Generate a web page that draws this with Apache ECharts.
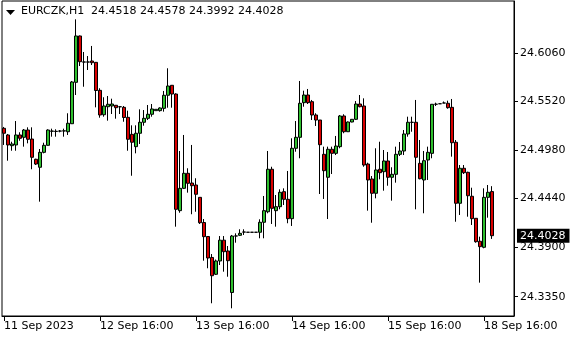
<!DOCTYPE html>
<html>
<head>
<meta charset="utf-8">
<script src="https://cdn.jsdelivr.net/npm/echarts@6/dist/echarts.min.js"></script>
<style>html,body{margin:0;padding:0;background:#fff}#c{width:580px;height:340px}</style>
</head>
<body>
<div id="c"></div>
<script>
const symbolName = 'EURCZK,H1';
const tickLabels = ['11 Sep 2023','12 Sep 16:00','13 Sep 16:00','14 Sep 16:00','15 Sep 16:00','18 Sep 16:00'];
const barsPerTick = 24;
const totalSlots = 128;
const priceTicks = [24.3350, 24.3900, 24.4440, 24.4980, 24.5520, 24.6060];

const open = [
24.5221,24.5147,24.5028,24.5036,24.5147,24.5121,24.5202,24.5102,24.4877,24.4788,
24.4954,24.5032,24.5188,24.5186,24.5190,24.5191,24.5183,24.5272,24.5732,24.6247,
24.5957,24.5958,24.5969,24.5954,24.5643,24.5372,24.5461,24.5469,24.5477,24.5460,
24.5454,24.5343,24.5154,24.5017,24.5166,24.5288,24.5332,24.5377,24.5417,24.5417,
24.5443,24.5588,24.5699,24.5602,24.4306,24.4554,24.4721,24.4613,24.4591,24.4454,
24.4174,24.4019,24.3786,24.3599,24.3747,24.3978,24.3858,24.3397,24.4024,24.4032,
24.4068,24.4066,24.4066,24.4066,24.4066,24.4177,24.4294,24.4766,24.4306,24.4350,
24.4517,24.4432,24.4217,24.4999,24.5121,24.5506,24.5591,24.5517,24.5369,24.5313,
24.4932,24.4677,24.4988,24.4943,24.5017,24.5358,24.5183,24.5291,24.5321,24.5491,
24.5469,24.4824,24.4658,24.4499,24.4766,24.4739,24.4858,24.4677,24.4710,24.4932,
24.4969,24.5158,24.5287,24.5288,24.4832,24.4647,24.4869,24.4943,24.5488,24.5494,
24.5502,24.5499,24.5454,24.5066,24.4388,24.4777,24.4732,24.4466,24.4221,24.3966,
24.3899,24.4454,24.4518];
const close = [
24.5166,24.5036,24.5047,24.5147,24.5110,24.5202,24.5099,24.4899,24.4824,24.4954,
24.5032,24.5202,24.5191,24.5188,24.5191,24.5193,24.5277,24.5736,24.6247,24.5961,
24.5958,24.5957,24.5950,24.5641,24.5369,24.5469,24.5488,24.5491,24.5450,24.5461,
24.5341,24.5099,24.5066,24.5166,24.5288,24.5332,24.5377,24.5436,24.5432,24.5447,
24.5588,24.5691,24.5602,24.4321,24.4554,24.4721,24.4610,24.4583,24.4488,24.4172,
24.4017,24.3780,24.3583,24.3747,24.3978,24.3850,24.3750,24.4024,24.4025,24.4054,
24.4069,24.4066,24.4066,24.4066,24.4177,24.4306,24.4766,24.4332,24.4350,24.4510,
24.4432,24.4217,24.4999,24.5121,24.5499,24.5591,24.5506,24.5369,24.5313,24.5039,
24.4750,24.4988,24.4943,24.5024,24.5358,24.5183,24.5291,24.5321,24.5491,24.5461,
24.4813,24.4647,24.4499,24.4758,24.4728,24.4858,24.4677,24.4710,24.4932,24.4969,
24.5158,24.5288,24.5288,24.4899,24.4661,24.4861,24.4954,24.5488,24.5489,24.5494,
24.5502,24.5450,24.5061,24.4388,24.4777,24.4728,24.4472,24.4217,24.3961,24.3906,
24.4454,24.4510,24.4028];
const high = [
24.5236,24.5158,24.5072,24.5302,24.5177,24.5213,24.5232,24.5232,24.4883,24.4991,
24.5061,24.5210,24.5217,24.5210,24.5202,24.5217,24.5388,24.5747,24.6432,24.6252,
24.6069,24.6024,24.6136,24.5958,24.5666,24.5566,24.5580,24.5550,24.5480,24.5469,
24.5469,24.5417,24.5254,24.5254,24.5432,24.5424,24.5480,24.5491,24.5432,24.5454,
24.5636,24.5888,24.5702,24.5610,24.4969,24.5147,24.4777,24.5036,24.4666,24.4454,
24.4213,24.4024,24.3824,24.3763,24.4024,24.4024,24.3913,24.4036,24.4054,24.4099,
24.4099,24.4066,24.4066,24.4066,24.4210,24.4469,24.4969,24.4794,24.4480,24.4543,
24.4554,24.4747,24.5110,24.5302,24.5747,24.5639,24.5658,24.5536,24.5388,24.5313,
24.5017,24.5017,24.5017,24.5136,24.5369,24.5377,24.5297,24.5324,24.5524,24.5591,
24.5554,24.4839,24.4691,24.4999,24.5072,24.4980,24.4958,24.4788,24.5017,24.5069,
24.5202,24.5350,24.5350,24.5536,24.5091,24.4969,24.5017,24.5491,24.5506,24.5494,
24.5519,24.5528,24.5547,24.5091,24.4813,24.4813,24.4739,24.4561,24.4224,24.4017,
24.4554,24.4591,24.4578];
const low = [
24.5036,24.4861,24.4972,24.4972,24.5083,24.5017,24.5054,24.4766,24.4813,24.4406,
24.4943,24.5028,24.5128,24.5128,24.5177,24.5128,24.5147,24.5269,24.5591,24.5913,
24.5683,24.5869,24.5924,24.5454,24.5339,24.5350,24.5306,24.5380,24.5328,24.5380,
24.5294,24.4972,24.4694,24.4943,24.5047,24.5250,24.5313,24.5350,24.5417,24.5406,
24.5406,24.5450,24.5450,24.4128,24.4283,24.4547,24.4506,24.4266,24.4294,24.4158,
24.3750,24.3666,24.3277,24.3591,24.3702,24.3628,24.3572,24.3221,24.3950,24.4024,
24.4036,24.4066,24.4066,24.4066,24.3999,24.3999,24.4277,24.4158,24.4128,24.4321,
24.4369,24.4166,24.4136,24.4961,24.4888,24.5461,24.5491,24.5313,24.5247,24.4491,
24.4436,24.4213,24.4713,24.4924,24.4999,24.5166,24.5180,24.5288,24.5313,24.5454,
24.4794,24.4306,24.4172,24.4443,24.4654,24.4528,24.4583,24.4417,24.4617,24.4913,
24.4924,24.5128,24.5183,24.4321,24.4654,24.4277,24.4647,24.4888,24.5469,24.5494,
24.5502,24.5439,24.4906,24.4183,24.4258,24.4713,24.4239,24.4147,24.3950,24.3506,
24.3888,24.4228,24.3992];

const FONT = 'DejaVu Sans';
const categories = Array.from({length: totalSlots}, (_, i) => String(i));
const candles = open.map((o, i) => [o, close[i], low[i], high[i]]);
const last = open.length - 1;
const fmt = v => Number(v).toFixed(4);

const chart = echarts.init(document.getElementById('c'), null, {renderer: 'canvas'});
chart.setOption({
  animation: false,
  backgroundColor: '#fff',
  grid: {left: 2, top: 1, width: 512, height: 315, show: true, borderColor: '#000', borderWidth: 1, backgroundColor: '#fff'},
  graphic: [
    {type: 'polygon', shape: {points: [[6, 10], [15, 10], [10.5, 15]]}, style: {fill: '#000'}},
    {type: 'text', left: 21, top: 6, style: {text: symbolName, font: '11px "' + FONT + '"', fill: '#000'}},
    {type: 'text', left: 91, top: 6, style: {text: [open[last], high[last], low[last], close[last]].map(fmt).join(' '), font: '11px "' + FONT + '"', fill: '#000'}}
  ],
  xAxis: {
    type: 'category', data: categories, boundaryGap: true,
    axisLine: {show: true, lineStyle: {color: '#000', width: 1}},
    axisTick: {show: true, alignWithLabel: true, interval: i => i % barsPerTick === 0, length: 5, lineStyle: {color: '#000'}},
    axisLabel: {interval: i => i % barsPerTick === 0, formatter: (v, i) => tickLabels[Math.round(Number(v) / barsPerTick)] || '', align: 'left', margin: 5, color: '#000', fontFamily: FONT, fontSize: 11},
    splitLine: {show: false}
  },
  yAxis: {
    type: 'value', position: 'right', scale: true,
    min: 24.4980 - 166 / 900, max: 24.4980 + 149 / 900,
    axisLine: {show: true, lineStyle: {color: '#000'}},
    axisTick: {show: true, inside: false, length: 4, customValues: priceTicks, lineStyle: {color: '#000'}},
    axisLabel: {customValues: priceTicks, formatter: v => fmt(v), margin: 6, color: '#000', fontFamily: FONT, fontSize: 11},
    splitLine: {show: false}
  },
  series: [{
    type: 'candlestick', data: candles, barWidth: 3, clip: false,
    itemStyle: {color: '#2fbf2f', color0: '#d80000', borderColor: '#000', borderColor0: '#000', borderColorDoji: '#000', borderWidth: 1},
    emphasis: {disabled: true},
    markLine: {
      silent: true, symbol: ['none', 'none'], animation: false, precision: 4,
      data: [{yAxis: close[last]}],
      lineStyle: {color: 'rgba(0,0,0,0)', width: 1, type: 'solid'},
      label: {show: true, position: 'end', distance: 3, formatter: () => fmt(close[last]), backgroundColor: '#000', color: '#fff', padding: [2, 4, 1, 3], fontFamily: FONT, fontSize: 11}
    }
  }]
});
</script>
</body>
</html>
